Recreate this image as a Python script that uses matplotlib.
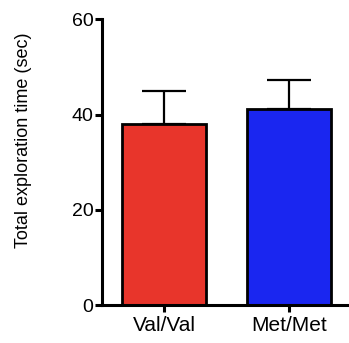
import matplotlib
matplotlib.use('Agg')
from matplotlib import pyplot as plt

genotypes = ['Val/Val', 'Met/Met']
means = [38.0, 41.1]
sems = [7.0, 6.2]
colors = ['#e8352b', '#1a26f0']

plt.rcParams['font.family'] = ['Liberation Sans', 'DejaVu Sans']

fig = plt.figure(figsize=(3.49, 3.43), dpi=100)
ax = fig.add_axes([101.7 / 349, 1 - 305 / 343, 1 - 101.7 / 349, (305 - 19.3) / 343])

x = range(len(genotypes))
ax.bar(x, means, width=0.67, color=colors, edgecolor='black', linewidth=2.0, zorder=2)
ax.errorbar(x, means, yerr=[[0] * len(sems), sems], fmt='none',
            ecolor='black', elinewidth=1.6, capsize=15.5, capthick=1.6, zorder=1)

ax.set_xlim(-0.5, 1.48)
ax.set_ylim(0, 60)
ax.set_yticks([0, 20, 40, 60])
ax.set_xticks(list(x))
ax.set_xticklabels(genotypes, fontsize=15)
ax.tick_params(axis='y', labelsize=14, width=2.2, length=5, pad=1)
ax.tick_params(axis='x', width=2.2, length=5, pad=3)

for s in ['top', 'right']:
    ax.spines[s].set_visible(False)
for s in ['left', 'bottom']:
    ax.spines[s].set_linewidth(2.2)

fig.text(24 / 349, 1 - 140 / 343, 'Total exploration time (sec)', rotation=90,
         fontsize=13, ha='center', va='center')

fig.savefig('out.png', dpi=100)
